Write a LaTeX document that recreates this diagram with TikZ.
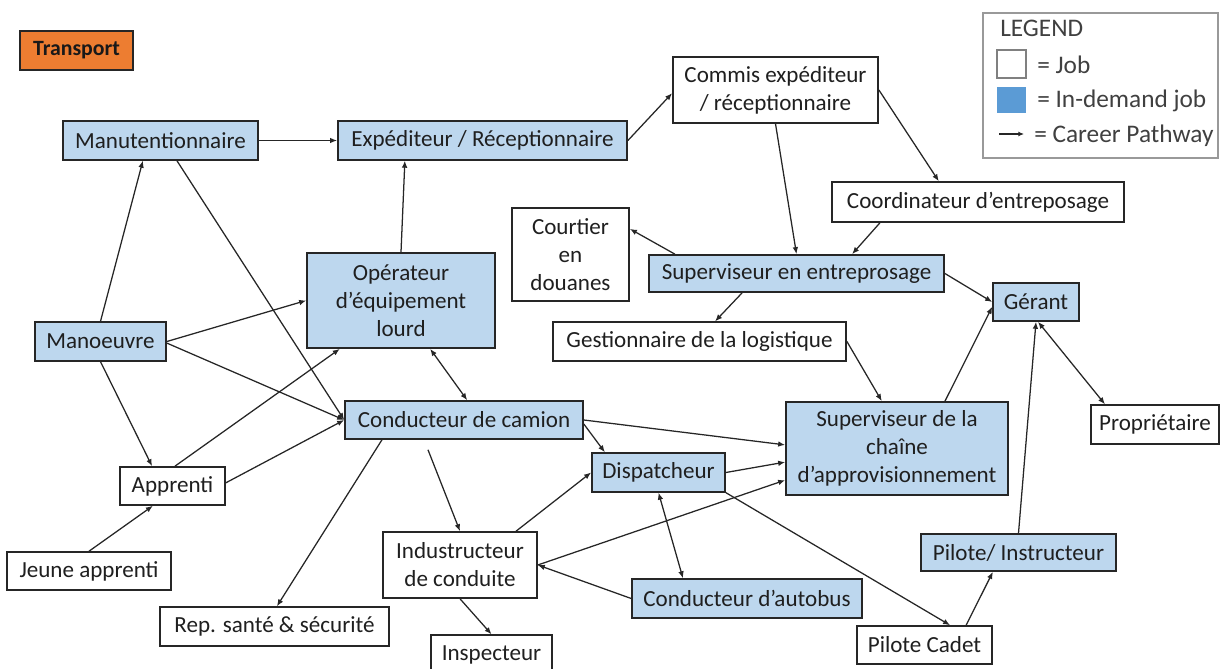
\documentclass[tikz,border=0pt]{standalone}
\usepackage{fontspec}
\setmainfont{Carlito}
\usetikzlibrary{arrows.meta}

\definecolor{jobblue}{RGB}{189,215,238}
\definecolor{legendblue}{RGB}{91,155,213}
\definecolor{transorange}{RGB}{237,125,49}
\newcommand{\boxfont}{\fontsize{16.4}{20}\selectfont}
\newcommand{\legendfont}{\fontsize{18}{22}\selectfont}

\begin{document}
\begin{tikzpicture}[x=0.025cm, y=-0.025cm,
  job/.style={draw=black!85, line width=1.1pt, fill=white, inner sep=0pt, minimum height=0.97cm, align=center, text=black!88, font=\boxfont},
  hotjob/.style={job, fill=jobblue},
  pathway/.style={-{Latex[length=5pt,width=4pt]}, line width=0.9pt, black!85},
  twoway/.style={{Latex[length=5pt,width=4pt]}-{Latex[length=5pt,width=4pt]}, line width=0.9pt, black!85},
  legtext/.style={anchor=base west, inner sep=0pt, font=\legendfont, text=black!75}]
\useasboundingbox (0,0) rectangle (1225,669);
%
% legend
\draw[black!40, line width=0.9pt] (983,13) rectangle (1218,158);
\node[legtext] (legtitle) at (1000,37) {LEGEND};
\draw[black!50, line width=0.9pt, fill=white] (997,50) rectangle (1026,78);
\node[legtext] (legjob) at (1037,74) {= Job};
\fill[legendblue] (997,87) rectangle (1026,113);
\node[legtext] (leghot) at (1037,108) {= In-demand job};
\coordinate (legA) at (999,134);
\coordinate (legB) at (1024,134);
\draw[-{Latex[length=4pt,width=3.5pt]}, line width=0.9pt, black!85] (legA) -- (legB);
\node[legtext] (legpath) at (1034,143) {= Career Pathway};
%
\node[draw=black!85, line width=1.1pt, fill=transorange, minimum width=2.83cm, minimum height=0.98cm, font=\fontsize{15.5}{18}\selectfont\bfseries, text=black!90] (transport) at (76.5,50.5) {Transport};
%
\node[hotjob, minimum width=4.88cm] (manut) at (160.5,140.5) {Manutentionnaire};
\node[hotjob, minimum width=7.23cm] (exped) at (482.5,140.5) {Expéditeur / Réceptionnaire};
\node[job, minimum width=5.13cm, minimum height=1.65cm] (commis) at (775.5,90) {Commis expéditeur\\/ réceptionnaire};
\node[job, minimum width=7.3cm, minimum height=1cm] (coord) at (978,202) {Coordinateur d’entreposage};
\node[job, minimum width=2.93cm, minimum height=2.33cm] (courtier) at (570.5,254.5) {Courtier\\en\\douanes};
\node[hotjob, minimum width=7.38cm, minimum height=0.93cm] (supent) at (796.5,273.5) {Superviseur en entreprosage};
\node[hotjob, minimum width=2.15cm, minimum height=0.95cm] (gerant) at (1036,302) {Gérant};
\node[hotjob, minimum width=4.7cm, minimum height=2.38cm] (oper) at (401,300.5) {Opérateur\\d’équipement\\lourd};
\node[hotjob, minimum width=3.28cm] (manoeuvre) at (100.5,341.5) {Manoeuvre};
\node[job, minimum width=7.33cm] (gestion) at (699.5,341.5) {Gestionnaire de la logistique};
\node[hotjob, minimum width=5.95cm, minimum height=0.95cm] (camion) at (464,420) {Conducteur de camion};
\node[hotjob, minimum width=5.55cm, minimum height=2.33cm] (supchain) at (897,448.5) {Superviseur de la\\chaîne\\d’approvisionnement};
\node[job, minimum width=3.2cm] (propr) at (1155,424.5) {Propriétaire};
\node[job, minimum width=2.63cm, minimum height=0.95cm] (apprenti) at (172.5,486) {Apprenti};
\node[hotjob, minimum width=3.33cm] (dispatch) at (658.5,472.5) {Dispatcheur};
\node[hotjob, minimum width=4.88cm, minimum height=0.93cm] (pilinst) at (1018.5,552.5) {Pilote/ Instructeur};
\node[job, minimum width=4.1cm, minimum height=0.95cm] (jeune) at (89,571) {Jeune apprenti};
\node[job, minimum width=3.85cm, minimum height=1.65cm] (indus) at (460,565) {Industructeur\\de conduite};
\node[hotjob, minimum width=5.75cm] (autobus) at (747,598.5) {Conducteur d’autobus};
\node[job, minimum width=5.73cm] (rep) at (274.5,626.5) {Rep. santé \& sécurité};
\node[job, minimum width=3.38cm, minimum height=0.95cm] (cadet) at (924.5,645) {Pilote Cadet};
\node[job, minimum width=3.03cm] (inspect) at (491.5,654.5) {Inspecteur};
%
% career pathways
\draw[pathway] (manut.east) -- (exped.west);
\draw[pathway] (manoeuvre.north) -- ([xshift=-0.44cm]manut.south);
\draw[pathway] ([xshift=0.41cm]manut.south) -- (camion.west);
\draw[pathway] (manoeuvre.east) -- (oper.west);
\draw[pathway] ([yshift=-0.04cm]manoeuvre.east) -- (camion.west);
\draw[pathway] (manoeuvre.south) -- ([xshift=-0.51cm]apprenti.north);
\draw[pathway] ([xshift=0.06cm]apprenti.north) -- ([xshift=-1.53cm]oper.south);
\draw[pathway] ([yshift=0.08cm]apprenti.east) -- (camion.west);
\draw[pathway] (jeune.north) -- ([xshift=-0.49cm]apprenti.south);
\draw[pathway] (oper.north) -- ([xshift=-1.94cm]exped.south);
\draw[twoway] ([xshift=0.73cm]oper.south) -- ([xshift=0.08cm]camion.north);
\draw[pathway] (exped.east) -- ([yshift=-0.08cm]commis.west);
\draw[pathway] (commis.south) -- (supent.north);
\draw[pathway] (commis.east) -- ([xshift=-0.98cm]coord.north);
\draw[pathway] ([xshift=-2.45cm]coord.south) -- ([xshift=1.39cm]supent.north);
\draw[pathway] ([xshift=-3.04cm]supent.north) -- ([yshift=0.64cm]courtier.east);
\draw[pathway] ([xshift=-1.36cm]supent.south) -- ([xshift=0.39cm]gestion.north);
\draw[pathway] (supent.east) -- (gerant.west);
\draw[pathway] (gestion.east) -- ([xshift=-0.38cm]supchain.north);
\draw[pathway] ([xshift=1.2cm]supchain.north) -- ([yshift=-0.12cm]gerant.west);
\draw[pathway] (pilinst.north) -- (gerant.south);
\draw[twoway] ([xshift=0.05cm]gerant.south) -- ([xshift=-1.25cm]propr.north);
\draw[pathway] (camion.east) -- ([yshift=0.09cm]supchain.west);
\draw[pathway] ([yshift=-0.1cm]camion.east) -- ([xshift=-1.34cm]dispatch.north);
\draw[pathway] ([xshift=-2.05cm]camion.south) -- ([xshift=0.06cm]rep.north);
\draw[pathway] ([xshift=-0.9cm, yshift=-0.25cm]camion.south) -- (indus.north);
\draw[pathway] ([xshift=1.4cm]indus.north) -- (dispatch.west);
\draw[pathway] (dispatch.east) -- ([yshift=-0.34cm]supchain.west);
\draw[pathway] (indus.east) -- ([yshift=-0.79cm]supchain.west);
\draw[pathway] (autobus.west) -- (indus.east);
\draw[twoway] (dispatch.south) -- ([xshift=-1.6cm]autobus.north);
\draw[pathway] (dispatch.south east) -- ([xshift=0.64cm]cadet.north);
\draw[pathway] ([xshift=1.04cm]cadet.north) -- ([xshift=-0.64cm]pilinst.south);
\draw[pathway] (indus.south) -- (inspect.north);
\end{tikzpicture}
\end{document}
